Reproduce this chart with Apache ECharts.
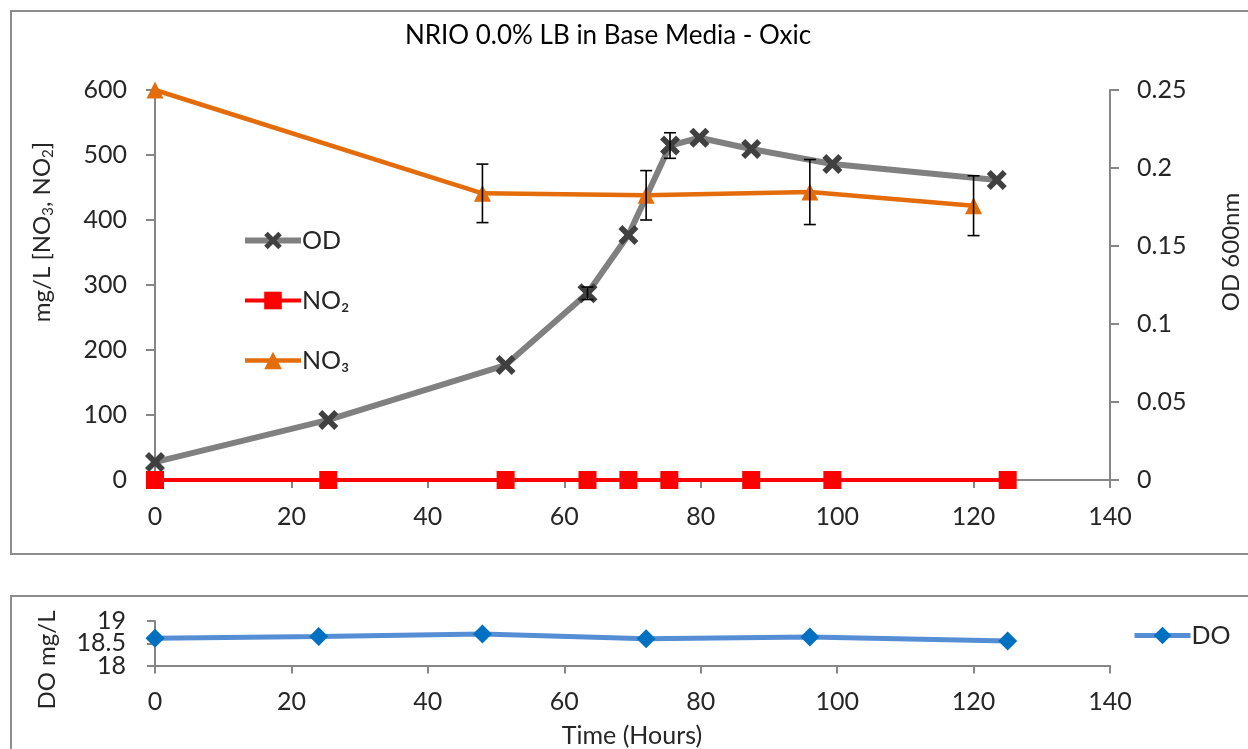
<!DOCTYPE html>
<html>
<head>
<meta charset="utf-8">
<script src="https://cdn.jsdelivr.net/npm/echarts@6/dist/echarts.min.js"></script>
<style>
  html, body { margin: 0; padding: 0; background: #fff; }
  #chart { width: 1248px; height: 749px; }
</style>
</head>
<body>
<div id="chart"></div>
<script>
// Optical density (OD 600nm) over time, with standard deviation
const timeOD = [0, 25.4, 51.4, 63.4, 69.4, 75.5, 79.8, 87.4, 99.3, 123.4];
const odValues = [0.0115, 0.0385, 0.0737, 0.1197, 0.157, 0.2144, 0.2194, 0.2122, 0.2026, 0.1923];
const odErr = [0, 0, 0, 0.004, 0, 0.0082, 0, 0, 0, 0];

// Nitrite (mg/L)
const timeNO2 = [0, 25.4, 51.4, 63.4, 69.4, 75.4, 87.4, 99.3, 125];
const no2Values = [0, 0, 0, 0, 0, 0, 0, 0, 0];

// Nitrate (mg/L), with standard deviation
const timeNO3 = [0, 48, 72, 96, 120];
const no3Values = [600, 441, 438, 443, 422];
const no3Err = [0, 45, 38, 50, 46];

// Dissolved oxygen (mg/L)
const timeDO = [0, 24, 48, 72, 96, 125];
const doValues = [18.61, 18.65, 18.71, 18.6, 18.64, 18.55];

// Axis ranges
const timeTicks = { min: 0, max: 140, interval: 20 };
const concTicks = { min: 0, max: 600, interval: 100 };
const odTicks = { min: 0, max: 0.25, interval: 0.05 };
const doTicks = { min: 18, max: 19, interval: 0.5 };
// the DO tick labels sit very close together; the middle one goes on its own layer
const doMidTick = 18.5;

const FONT = 'Lato';
const TXT = '#262626';
const AXIS = '#868686';
const crossPath = 'path://M0,2 L2,0 L5,3 L8,0 L10,2 L7,5 L10,8 L8,10 L5,7 L2,10 L0,8 L3,5 Z';

const pairs = (xs, ys) => xs.map((x, i) => [x, ys[i]]);

function errorBars(xs, ys, errs, yAxisIndex) {
  return {
    type: 'custom',
    xAxisIndex: 0,
    yAxisIndex: yAxisIndex,
    silent: true,
    z: 4,
    data: xs.map((x, i) => [x, ys[i], errs[i]]),
    encode: { x: 0, y: 1 },
    renderItem: function (params, api) {
      const x = api.value(0), y = api.value(1), e = api.value(2);
      if (!e) return null;
      const hi = api.coord([x, y + e]);
      const lo = api.coord([x, y - e]);
      const w = 6;
      const style = { stroke: '#000', lineWidth: 1.6 };
      return {
        type: 'group',
        children: [
          { type: 'line', shape: { x1: hi[0], y1: hi[1], x2: lo[0], y2: lo[1] }, style: style },
          { type: 'line', shape: { x1: hi[0] - w, y1: hi[1], x2: hi[0] + w, y2: hi[1] }, style: style },
          { type: 'line', shape: { x1: lo[0] - w, y1: lo[1], x2: lo[0] + w, y2: lo[1] }, style: style }
        ]
      };
    }
  };
}

function timeAxis(gridIndex) {
  return {
    type: 'value', gridIndex: gridIndex,
    min: timeTicks.min, max: timeTicks.max, interval: timeTicks.interval,
    axisLine: { show: true, onZero: false, lineStyle: { color: AXIS, width: 2 } },
    axisTick: { show: true, inside: false, length: 8, lineStyle: { color: AXIS, width: 2 } },
    axisLabel: { margin: 24, color: TXT, fontFamily: FONT, fontSize: 25 },
    splitLine: { show: false }
  };
}

const chart = echarts.init(document.getElementById('chart'), null, { renderer: 'canvas' });

const option = {
  animation: false,
  backgroundColor: '#fff',
  textStyle: { fontFamily: FONT },
  grid: [
    { left: 155, right: 138, top: 90, height: 390 },
    { left: 155, right: 138, top: 621, height: 44.5 }
  ],
  xAxis: [timeAxis(0), timeAxis(1)],
  yAxis: [
    {
      type: 'value', gridIndex: 0, position: 'left',
      min: concTicks.min, max: concTicks.max, interval: concTicks.interval,
      axisLine: { show: true, lineStyle: { color: AXIS, width: 2 } },
      axisTick: { show: true, length: 9, lineStyle: { color: AXIS, width: 2 } },
      axisLabel: { margin: 28, color: TXT, fontFamily: FONT, fontSize: 25 },
      splitLine: { show: false }
    },
    {
      type: 'value', gridIndex: 0, position: 'right',
      min: odTicks.min, max: odTicks.max, interval: odTicks.interval,
      axisLine: { show: true, lineStyle: { color: AXIS, width: 2 } },
      axisTick: { show: true, length: 9, lineStyle: { color: AXIS, width: 2 } },
      axisLabel: { margin: 27, color: TXT, fontFamily: FONT, fontSize: 25 },
      splitLine: { show: false }
    },
    {
      type: 'value', gridIndex: 1, position: 'left',
      min: doTicks.min, max: doTicks.max, interval: doTicks.interval,
      axisLine: { show: true, lineStyle: { color: AXIS, width: 2 } },
      axisTick: { show: true, length: 8, lineStyle: { color: AXIS, width: 2 } },
      axisLabel: {
        margin: 29, color: TXT, fontFamily: FONT, fontSize: 25,
        showMinLabel: true, showMaxLabel: true,
        formatter: v => (v === doMidTick ? '' : String(v))
      },
      splitLine: { show: false }
    },
    {
      type: 'value', gridIndex: 1, position: 'left',
      min: doTicks.min, max: doTicks.max, interval: doTicks.interval,
      axisLine: { show: false }, axisTick: { show: false },
      axisLabel: {
        margin: 29, color: TXT, fontFamily: FONT, fontSize: 25,
        formatter: v => (v === doMidTick ? String(v) : '')
      },
      splitLine: { show: false }
    }
  ],
  legend: [
    {
      orient: 'vertical', left: 237, top: 223,
      itemWidth: 56, itemHeight: 22, itemGap: 35,
      textStyle: { color: TXT, fontFamily: FONT, fontSize: 25, padding: [0, 0, 0, -4] },
      data: [
        { name: 'OD', lineStyle: { width: 6 } },
        { name: 'NO₂', lineStyle: { width: 4 } },
        { name: 'NO₃', lineStyle: { width: 4.5 } }
      ]
    },
    {
      orient: 'vertical', left: 1127, top: 618,
      itemWidth: 56, itemHeight: 22,
      textStyle: { color: TXT, fontFamily: FONT, fontSize: 25, padding: [0, 0, 0, -4] },
      data: [{ name: 'DO', lineStyle: { width: 5 } }]
    }
  ],
  series: [
    {
      name: 'NO₃', type: 'line', xAxisIndex: 0, yAxisIndex: 0,
      data: pairs(timeNO3, no3Values),
      symbol: 'triangle', symbolSize: 17, showSymbol: true,
      lineStyle: { color: '#E46C0A', width: 4.5 },
      itemStyle: { color: '#E46C0A' }, z: 3
    },
    {
      name: 'OD', type: 'line', xAxisIndex: 0, yAxisIndex: 1,
      data: pairs(timeOD, odValues),
      symbol: crossPath, symbolSize: 20, showSymbol: true,
      lineStyle: { color: '#808080', width: 6 },
      itemStyle: { color: '#404040' }, z: 3
    },
    {
      name: 'NO₂', type: 'line', xAxisIndex: 0, yAxisIndex: 0,
      data: pairs(timeNO2, no2Values),
      symbol: 'rect', symbolSize: 18, showSymbol: true,
      lineStyle: { color: '#FF0000', width: 4 },
      itemStyle: { color: '#FF0000' }, z: 3
    },
    errorBars(timeNO3, no3Values, no3Err, 0),
    errorBars(timeOD, odValues, odErr, 1),
    {
      name: 'DO', type: 'line', xAxisIndex: 1, yAxisIndex: 2,
      data: pairs(timeDO, doValues),
      symbol: 'diamond', symbolSize: 19, showSymbol: true,
      lineStyle: { color: '#558ED5', width: 5 },
      itemStyle: { color: '#0070C0' }, z: 3
    }
  ],
  graphic: [
    // chart area frames
    { type: 'rect', shape: { x: 11, y: 11, width: 1260, height: 543 }, style: { fill: 'none', stroke: '#8c8c8c', lineWidth: 2 }, z: -1, silent: true },
    { type: 'rect', shape: { x: 11, y: 596, width: 1260, height: 200 }, style: { fill: 'none', stroke: '#8c8c8c', lineWidth: 2 }, z: -1, silent: true },
    // title
    { type: 'text', x: 608, y: 36, style: { text: 'NRIO 0.0% LB in Base Media - Oxic', fill: '#000', font: '26px Lato', textAlign: 'center', textVerticalAlign: 'middle' } },
    // left axis name with subscripts
    {
      type: 'text', x: 42, y: 232, rotation: Math.PI / 2,
      style: {
        text: '{a|mg/L [NO}{s|3}{a|, NO}{s|2}{a|]}',
        textAlign: 'center', textVerticalAlign: 'middle',
        rich: {
          a: { fontFamily: FONT, fontSize: 24, fill: TXT, color: TXT },
          s: { fontFamily: FONT, fontSize: 15, fill: TXT, color: TXT, padding: [12, 0, 0, 0] }
        }
      }
    },
    // right axis name
    { type: 'text', x: 1231, y: 252, rotation: Math.PI / 2, style: { text: 'OD 600nm', fill: TXT, font: '24px Lato', textAlign: 'center', textVerticalAlign: 'middle' } },
    // bottom panel axis names
    { type: 'text', x: 47, y: 660, rotation: Math.PI / 2, style: { text: 'DO mg/L', fill: TXT, font: '24px Lato', textAlign: 'center', textVerticalAlign: 'middle' } },
    { type: 'text', x: 632, y: 736, style: { text: 'Time (Hours)', fill: TXT, font: '25px Lato', textAlign: 'center', textVerticalAlign: 'middle' } }
  ]
};

chart.setOption(option);
</script>
</body>
</html>
